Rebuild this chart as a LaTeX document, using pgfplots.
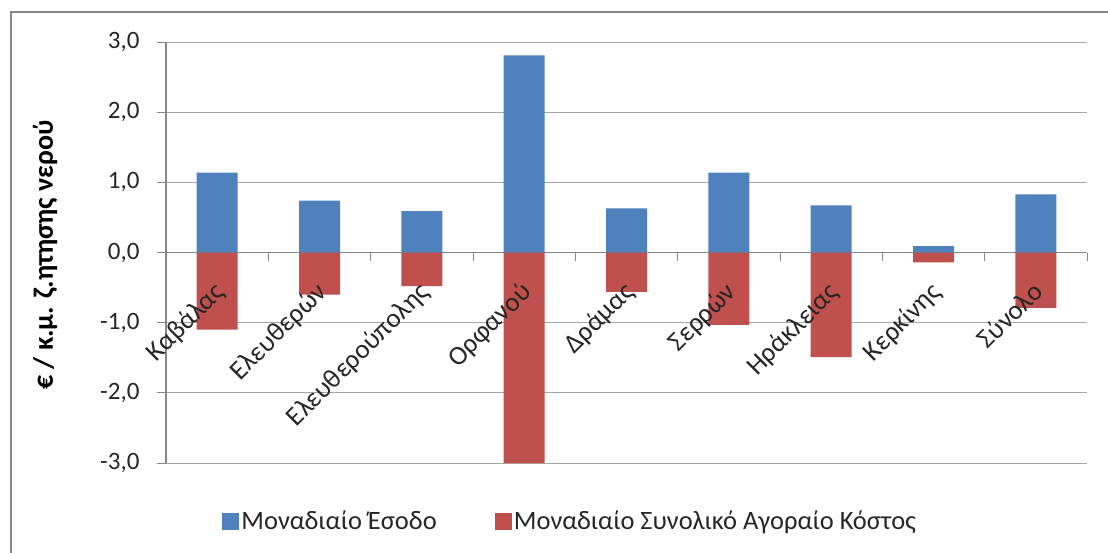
\documentclass[border=0pt]{standalone}
\usepackage{pgfplots}
\pgfplotsset{compat=1.18}
\usepackage{fontspec}
\setmainfont{Carlito}
\definecolor{bblue}{HTML}{4F81BD}
\definecolor{rred}{HTML}{C0504D}
\definecolor{axgray}{HTML}{868686}
\definecolor{grd}{HTML}{A6A6A6}
\definecolor{txt}{HTML}{262626}
\begin{document}
\begin{tikzpicture}
\useasboundingbox (-166pt,-89pt) rectangle (942pt,463pt);
\draw[axgray, line width=1.5pt] (-155pt,-100pt) -- (-155pt,451pt) -- (960pt,451pt);
\node[rotate=90, font=\fontsize{28}{30}\selectfont\bfseries, text=black] at (-121pt,208pt) {€ / κ.μ. ζ.ητησης νερού};
\begin{axis}[
  axis on top,
  at={(0pt,0pt)}, anchor=south west,
  scale only axis, width=921pt, height=421pt,
  xmin=-0.5, xmax=8.5, ymin=-3, ymax=3,
  axis x line=middle, axis y line=left,
  axis line style={-, draw=axgray, line width=1.2pt},
  x axis line style={draw=none},
  ytick={-3,-2,...,3},
  y tick style={draw=axgray, line width=1pt},
  major tick length=9pt, tick align=outside,
  yticklabel style={font=\fontsize{25}{28}\selectfont, text=txt, xshift=-14pt},
  /pgf/number format/.cd, fixed, fixed zerofill, precision=1, use comma, assume math mode=true,
  /pgfplots/.cd,
  xtick={0,...,8},
  xticklabels={Καβάλας, Ελευθερών, Ελευθερούπολης, Ορφανού, Δράμας, Σερρών, Ηράκλειας, Κερκίνης, Σύνολο},
  x tick style={draw=none},
  extra x ticks={0.5,1.5,...,8.5},
  extra x tick labels={},
  extra x tick style={x tick style={draw=axgray, line width=1pt}, major tick length=8pt, tick align=outside},
  xticklabel style={font=\fontsize{27}{30}\selectfont, text=txt, yshift=-17pt, xshift=-5pt, rotate=45, anchor=north east, inner sep=1pt},
  ybar, bar width=41pt, bar shift=0pt,
  legend columns=2,
  legend style={at={(0.439,-0.138)}, anchor=center, draw=none, fill=none,
    font=\fontsize{26.5}{29}\selectfont, text=txt, inner sep=0pt,
    /tikz/every even column/.append style={column sep=56pt}},
  legend image code/.code={\fill[#1] (0pt,-8.5pt) rectangle (17pt,8.5pt);},
]
\draw[grd, line width=1pt] (-0.5,3) -- (8.5,3) (-0.5,2) -- (8.5,2) (-0.5,1) -- (8.5,1)
  (-0.5,-1) -- (8.5,-1) (-0.5,-2) -- (8.5,-2) (-0.5,-3) -- (8.5,-3);
\draw[axgray, line width=1.3pt] (-0.5,0) -- (8.5,0);
\addplot[fill=bblue, draw=none] coordinates {(0,1.14) (1,0.74) (2,0.59) (3,2.81) (4,0.63) (5,1.14) (6,0.67) (7,0.09) (8,0.83)};
\addplot[fill=rred, draw=none] coordinates {(0,-1.10) (1,-0.60) (2,-0.48) (3,-3.0) (4,-0.56) (5,-1.03) (6,-1.49) (7,-0.14) (8,-0.79)};
\legend{Μοναδιαίο Έσοδο, Μοναδιαίο Συνολικό Αγοραίο Κόστος}
\end{axis}
\end{tikzpicture}
\end{document}
